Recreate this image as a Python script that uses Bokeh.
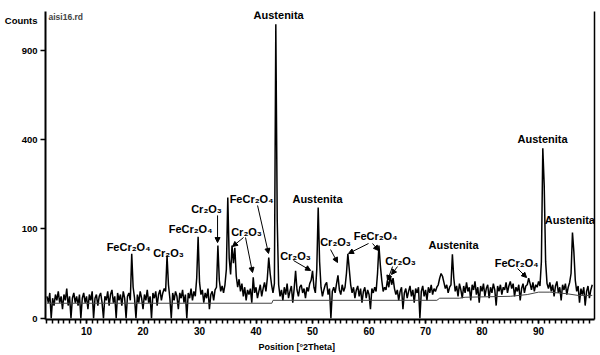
import numpy as np
from bokeh.plotting import figure
from bokeh.core.properties import value
from bokeh.models import (Range1d, FixedTicker, LinearAxis, ColumnDataSource,
                          LabelSet, Label, Arrow, NormalHead)
from bokeh.embed import file_html
from bokeh.resources import INLINE

# ---------------- data ----------------
# diffraction angle grid, 0.25 deg steps from 3.0 to 99.5 deg 2Theta
two_theta = np.arange(3.0, 99.5001, 0.25)

counts = [
    # 3.00 - 7.75
    6, 3, 8, 0, 5, 2, 7, 4, 9, 3, 6, 1, 7, 4, 11, 2, 6, 0, 5, 8,
    # 8.00 - 12.75
    3, 6, 2, 7, 0, 5, 8, 3, 6, 1, 7, 4, 9, 0, 5, 7, 2, 6, 8, 3,
    # 13.00 - 17.75
    0, 6, 4, 9, 2, 7, 10, 3, 6, 0, 8, 4, 7, 2, 9, 5, 0, 6, 8, 4,
    # 18.00 - 22.75
    52, 12, 5, 0, 7, 3, 9, 5, 1, 7, 4, 10, 3, 6, 0, 8, 5, 9, 2, 7,
    # 23.00 - 27.75
    10, 4, 8, 11, 9, 49, 14, 5, 0, 8, 4, 9, 6, 1, 8, 5, 10, 3, 7, 0,
    # 28.00 - 32.75
    8, 5, 11, 4, 9, 6, 20, 83, 16, 7, 10, 3, 8, 5, 11, 1, 7, 9, 4, 10,
    # 33.00 - 37.75
    12, 66, 18, 9, 13, 8, 14, 30, 182, 45, 24, 66, 38, 62, 22, 12, 19, 9, 15, 6,
    # 38.00 - 42.75
    12, 4, 10, 7, 11, 3, 21, 8, 12, 5, 9, 14, 6, 11, 16, 9, 20, 46, 25, 14,
    # 43.00 - 47.75
    8, 15, 1082, 120, 14, 6, 10, 4, 12, 7, 15, 5, 9, 13, 3, 11, 28, 10, 6, 12,
    # 48.00 - 52.75
    14, 8, 11, 5, 12, 9, 15, 18, 28, 12, 8, 30, 153, 40, 12, 6, 10, 14, 16, 7,
    # 53.00 - 57.75
    11, 0, 9, 12, 8, 15, 23, 10, 7, 14, 9, 12, 25, 52, 30, 14, 8, 12, 5, 10,
    # 58.00 - 62.75
    13, 6, 11, 3, 9, 12, 5, 10, 7, 1, 11, 8, 12, 9, 25, 66, 35, 18, 9, 12,
    # 63.00 - 67.75
    10, 18, 12, 23, 14, 20, 11, 7, 10, 4, 9, 12, 1, 8, 11, 5, 9, 13, 6, 10,
    # 68.00 - 72.75
    3, 11, 8, 12, 0, 9, 13, 6, 10, 4, 12, 8, 14, 7, 11, 9, 12, 14, 20, 25,
    # 73.00 - 77.75
    22, 16, 11, 14, 8, 12, 14, 51, 20, 9, 13, 6, 15, 10, 5, 13, 8, 16, 9, 12,
    # 78.00 - 82.75
    4, 14, 10, 17, 7, 12, 3, 13, 9, 15, 6, 11, 14, 5, 12, 8, 15, 10, 2, 13,
    # 83.00 - 87.75
    9, 14, 7, 12, 10, 16, 8, 13, 17, 11, 15, 6, 12, 9, 14, 4, 11, 15, 8, 13,
    # 88.00 - 92.75
    14, 20, 15, 10, 16, 9, 14, 12, 17, 13, 40, 361, 221, 40, 15, 11, 16, 9, 14, 6,
    # 93.00 - 97.75
    13, 17, 8, 12, 4, 14, 10, 15, 7, 12, 16, 25, 92, 55, 18, 9, 13, 3, 11, 7,
    # 98.00 - 99.50
    12, 2, 9, 13, 5, 10, 14,
]
assert len(counts) == len(two_theta)

# fitted background line
bg_theta = [3.0, 42.8, 43.0, 72.0, 72.5, 76.0, 77.0, 85.0, 88.0, 90.0, 92.0, 95.0, 97.0, 99.5]
bg_counts = [2.8, 2.8, 4.0, 4.0, 5.0, 5.0, 5.5, 6.0, 7.0, 8.5, 8.5, 7.5, 6.5, 6.5]

# axis ticks
x_ticks = [10, 20, 30, 40, 50, 60, 70, 80, 90]
x_minor_ticks = list(range(3, 100))
y_tick_counts = [0, 100, 400, 900]
y_title = "Counts"
x_title = "Position [\u00b02Theta]"
file_name = "aisi16.rd"

# phase labels (angle, sqrt(counts) position)
label_text = ["Austenita", "FeCr\u2082O\u2084", "Cr\u2082O\u2083", "FeCr\u2082O\u2084",
              "Cr\u2082O\u2083", "FeCr\u2082O\u2084", "Cr\u2082O\u2083", "Cr\u2082O\u2083",
              "Austenita", "Cr\u2082O\u2083", "FeCr\u2082O\u2084", "Cr\u2082O\u2083",
              "Austenita", "FeCr\u2082O\u2084", "Austenita", "Austenita"]
label_x = [44.0, 17.43, 24.51, 28.41, 31.24, 39.20, 38.32, 46.99,
           50.88, 54.07, 61.15, 65.58, 74.96, 86.11, 90.71, 95.55]
label_y = [33.9, 7.91, 7.35, 10.03, 12.27, 13.39, 9.59, 7.01,
           13.39, 8.58, 9.25, 6.45, 8.24, 6.12, 20.10, 10.93]

# arrows from labels to peaks (angle, sqrt(counts))
arrow_x0 = [33.19, 40.27, 37.79, 38.14, 46.64, 53.19, 59.91, 60.62, 64.16, 65.04, 86.28]
arrow_y0 = [11.50, 12.61, 9.03, 9.03, 6.45, 7.68, 8.36, 8.36, 5.78, 5.78, 5.56]
arrow_x1 = [33.19, 42.21, 35.84, 39.38, 49.65, 54.42, 56.37, 61.68, 63.27, 63.98, 87.88]
arrow_y1 = [8.46, 7.24, 8.02, 5.11, 5.34, 6.23, 7.24, 7.57, 4.22, 4.89, 4.55]

# ---------------- figure ----------------
FONT = "Liberation Sans"

p = figure(width=600, height=355, output_backend="svg", toolbar_location=None,
           x_range=Range1d(2.74, 99.9), y_range=Range1d(-0.145, 34.31),
           min_border_left=45, min_border_right=6, min_border_top=11, min_border_bottom=36)
p.grid.visible = False
p.outline_line_color = None
p.background_fill_color = "white"

y_sqrt = np.sqrt(np.array(counts, dtype=float))
p.line(two_theta, y_sqrt, line_color="black", line_width=1.5)
p.line(bg_theta, np.sqrt(np.array(bg_counts)), line_color="#444444", line_width=1)

# x axis
xa = p.xaxis[0]
xa.ticker = FixedTicker(ticks=x_ticks, minor_ticks=x_minor_ticks)
xa.axis_line_width = 2
xa.major_tick_out = 4
xa.major_tick_in = 0
xa.minor_tick_out = 4
xa.minor_tick_in = 0
xa.major_tick_line_width = 1.5
xa.minor_tick_line_width = 1.5
xa.major_label_text_font = FONT
xa.major_label_text_font_style = "bold"
xa.major_label_text_font_size = "10px"
xa.major_label_standoff = 3
xa.major_label_text_color = "black"

# second (label-only) x axis carrying the axis title at its place
x_title_pos = 47.2
xa2 = LinearAxis(ticker=FixedTicker(ticks=[x_title_pos], minor_ticks=[]),
                 major_label_overrides={x_title_pos: x_title},
                 axis_line_color=None, major_tick_line_color=None,
                 minor_tick_line_color=None, major_tick_out=0, major_tick_in=0,
                 major_label_standoff=4, major_label_text_font=FONT,
                 major_label_text_font_style="bold", major_label_text_font_size="9px",
                 major_label_text_color="black")
p.add_layout(xa2, "below")

# y axis: square-root scale; "Counts" is an extra label near the top
y_title_pos = 33.3
y_tick_pos = [float(np.sqrt(c)) for c in y_tick_counts]
ya = p.yaxis[0]
ya.ticker = FixedTicker(ticks=y_tick_pos + [y_title_pos], minor_ticks=y_tick_pos)
overrides = {float(np.sqrt(c)): str(c) for c in y_tick_counts}
overrides[y_title_pos] = y_title
ya.major_label_overrides = overrides
ya.axis_line_width = 2
ya.major_tick_out = 5
ya.major_tick_in = 0
ya.major_tick_line_color = None
ya.minor_tick_out = 5
ya.minor_tick_in = 0
ya.minor_tick_line_width = 1.5
ya.minor_tick_line_color = "black"
ya.major_label_text_font = FONT
ya.major_label_text_font_style = "bold"
ya.major_label_text_font_size = "9.5px"
ya.major_label_standoff = 3
ya.major_label_text_color = "black"

# right frame line
ra = LinearAxis(ticker=FixedTicker(ticks=[]), major_label_text_font_size="0px",
                major_tick_line_color=None, minor_tick_line_color=None,
                axis_line_width=1.5, major_label_standoff=0)
p.add_layout(ra, "right")

# phase labels
lsrc = ColumnDataSource(dict(x=label_x, y=label_y, t=label_text))
p.add_layout(LabelSet(x="x", y="y", text="t", source=lsrc, text_align="center",
                      text_baseline="middle", text_font=value(FONT),
                      text_font_style=value("bold"), text_font_size=value("11px"),
                      text_color=value("black")))

asrc = ColumnDataSource(dict(x0=arrow_x0, y0=arrow_y0, x1=arrow_x1, y1=arrow_y1))
p.add_layout(Arrow(x_start="x0", y_start="y0", x_end="x1", y_end="y1", source=asrc,
                   line_width=1, line_color="black",
                   end=NormalHead(size=5, fill_color="black", line_color="black")))

p.add_layout(Label(x=3.27, y=33.75, text=file_name, text_align="left", text_baseline="middle",
                   text_font=FONT, text_font_style="bold", text_font_size="8.5px"))

open("out.html", "w").write(file_html(p, INLINE))
